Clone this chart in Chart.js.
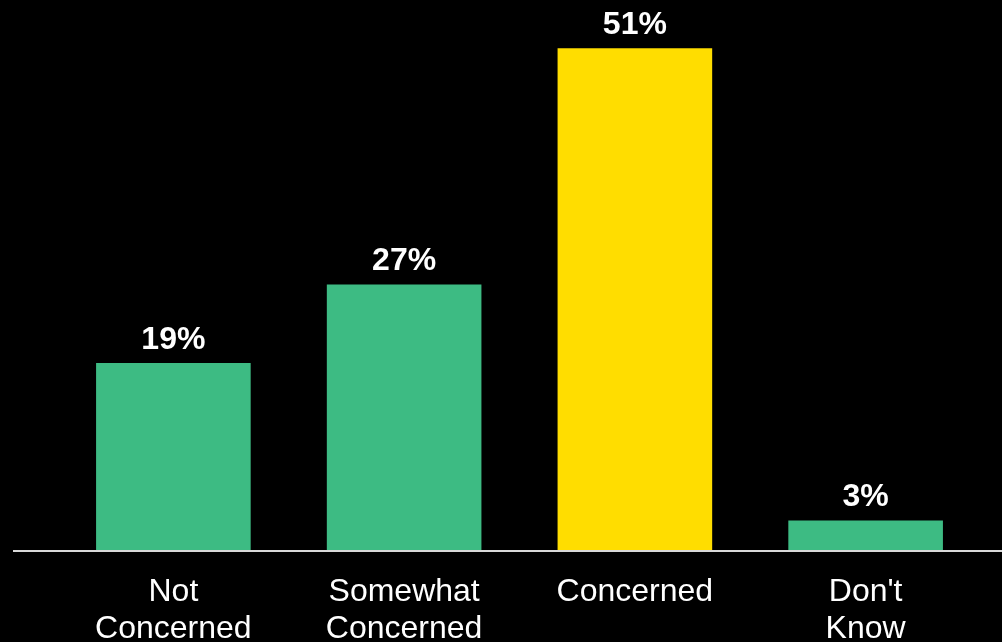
<!DOCTYPE html>
<html>
<head>
<meta charset="utf-8">
<script src="https://cdn.jsdelivr.net/npm/chart.js@4"></script>
<style>
  html, body { margin: 0; padding: 0; background: #000; }
  #wrap { width: 1002px; height: 642px; }
</style>
</head>
<body>
<div id="wrap"><canvas id="concernChart" width="1002" height="642"></canvas></div>
<script>
const categories = [['Not', 'Concerned'], ['Somewhat', 'Concerned'], ['Concerned'], ["Don't", 'Know']];
const shares = [19, 27, 51, 3];
const barColors = ['#3dbb83', '#3dbb83', '#ffdd00', '#3dbb83'];

// value labels above each bar + the long baseline
const barLabels = {
    id: 'barLabels',
    afterDatasetsDraw(chart) {
        const c = chart.ctx;
        const meta = chart.getDatasetMeta(0);
        c.save();
        c.font = 'bold 32px "Liberation Sans", Arial, sans-serif';
        c.fillStyle = '#fff';
        c.textAlign = 'center';
        c.textBaseline = 'alphabetic';
        meta.data.forEach((bar, i) => {
            c.fillText(shares[i] + '%', bar.x, bar.y - 14);
        });
        const y0 = chart.scales.y.getPixelForValue(0);
        c.strokeStyle = '#d9d9d9';
        c.lineWidth = 2;
        c.beginPath();
        c.moveTo(13, y0 + 1);
        c.lineTo(chart.width, y0 + 1);
        c.stroke();
        c.restore();
    }
};

const ctx = document.getElementById('concernChart').getContext('2d');
let myChart = new Chart(ctx, {
    type: 'bar',
    data: {
        labels: categories,
        datasets: [{
            data: shares,
            backgroundColor: barColors,
            borderWidth: 0,
            barPercentage: 0.67,
            categoryPercentage: 1
        }]
    },
    options: {
        responsive: false,
        animation: false,
        layout: { padding: { left: 58, right: 21, top: 9 } },
        plugins: { legend: { display: false }, tooltip: { enabled: false } },
        scales: {
            x: {
                grid: { display: false, drawTicks: false },
                border: { display: false },
                ticks: {
                    color: '#fff',
                    padding: 24,
                    maxRotation: 0,
                    autoSkip: false,
                    font: { family: '"Liberation Sans", Arial, sans-serif', size: 32, lineHeight: 1.15 }
                },
                afterFit(scale) { scale.height = 92; }
            },
            y: {
                display: false,
                min: 0,
                max: 55
            }
        }
    },
    plugins: [barLabels]
});
</script>
</body>
</html>
